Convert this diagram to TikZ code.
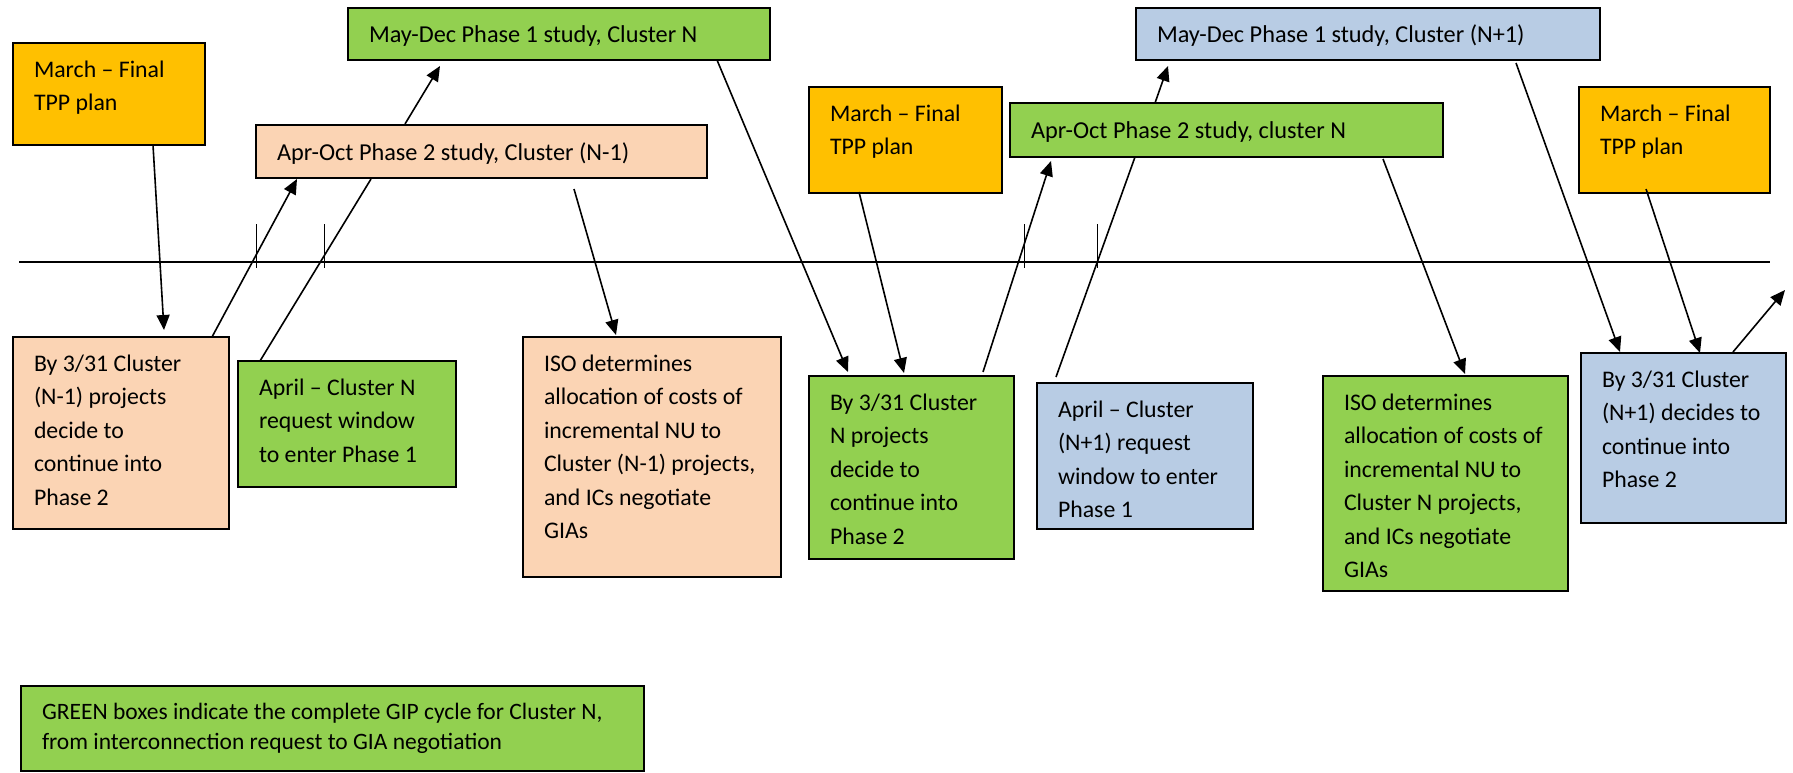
\documentclass[tikz,border=0pt]{standalone}
\usepackage{fontspec}
\setmainfont{Carlito}
\usetikzlibrary{arrows.meta,calc}
\definecolor{cOrange}{HTML}{FFC000}
\definecolor{cPeach}{HTML}{FBD4B4}
\definecolor{cGreen}{HTML}{92D050}
\definecolor{cBlue}{HTML}{B8CCE4}
\newcommand\fsz{\fontsize{23.8}{33.5}\selectfont}
\newcommand\fszh{\fontsize{24.3}{33.5}\selectfont}
\newcommand\fszl{\fontsize{23.5}{30}\selectfont}
\tikzset{
  box/.style={draw=black, line width=1.8pt, anchor=north west, inner sep=0pt, outer sep=0pt},
  txt/.style={anchor=north west, align=left, inner sep=0pt, outer sep=0pt, font=\fsz},
  conn/.style={line width=1.6pt, draw=black},
  arr/.style={conn, -{Triangle[length=15pt,width=13pt]}},
  tick/.style={line width=1pt, draw=black},
  tline/.style={line width=1.6pt, draw=black}
}
\newcommand\mkbox[8]{%
  \node[box, fill=#6, minimum width={(#4-#2)*1pt}, minimum height={(#5-#3)*1pt}] (#1) at (#2,#3) {};
  \node[txt, #8] (#1t) at ($(#1.north west)+(21,11)$) {\strut #7};
}
\begin{document}
\begin{tikzpicture}[x=1pt,y=-1pt]
\useasboundingbox (0,0) rectangle (1793,773);
% timeline
\coordinate (tlA) at (19,262);
\coordinate (tlB) at (1770,262);
\draw[tline] (tlA) -- (tlB);
\foreach \tx [count=\i] in {256,324,1024,1097} {
  \coordinate (tkA\i) at (\tx,224);
  \coordinate (tkB\i) at (\tx,268);
  \draw[tick] (tkA\i) -- (tkB\i);
}
% boxes
\mkbox{march1}{13}{43}{205}{145}{cOrange}{March -- Final\\TPP plan}{}
\mkbox{maydecN}{348}{8}{770}{60}{cGreen}{May-Dec Phase 1 study, Cluster N}{font=\fszh}
\mkbox{aproct1}{256}{125}{707}{178}{cPeach}{Apr-Oct Phase 2 study, Cluster (N-1)}{font=\fszh, yshift=-1pt}
\mkbox{by1}{13}{337}{229}{529}{cPeach}{By 3/31 Cluster\\(N-1) projects\\decide to\\continue into\\Phase 2}{}
\mkbox{aprilN}{238}{361}{456}{487}{cGreen}{April -- Cluster N\\request window\\to enter Phase 1}{}
\mkbox{iso1}{523}{337}{781}{577}{cPeach}{ISO determines\\allocation of costs of\\incremental NU to\\Cluster (N-1) projects,\\and ICs negotiate\\GIAs}{}
\mkbox{maydecN1}{1136}{8}{1600}{60}{cBlue}{May-Dec Phase 1 study, Cluster (N+1)}{font=\fszh}
\mkbox{march2}{809}{87}{1002}{193}{cOrange}{March -- Final\\TPP plan}{}
\mkbox{aproctN}{1010}{103}{1443}{157}{cGreen}{Apr-Oct Phase 2 study, cluster N}{font=\fszh, yshift=-1pt}
\mkbox{byN}{809}{376}{1014}{559}{cGreen}{By 3/31 Cluster\\N projects\\decide to\\continue into\\Phase 2}{}
\mkbox{aprilN1}{1037}{383}{1253}{529}{cBlue}{April -- Cluster\\(N+1) request\\window to enter\\Phase 1}{}
\mkbox{isoN}{1323}{376}{1568}{591}{cGreen}{ISO determines\\allocation of costs of\\incremental NU to\\Cluster N projects,\\and ICs negotiate\\GIAs}{}
\mkbox{march3}{1579}{87}{1770}{193}{cOrange}{March -- Final\\TPP plan}{}
\mkbox{byN1}{1581}{353}{1786}{523}{cBlue}{By 3/31 Cluster\\(N+1) decides to\\continue into\\Phase 2}{}
% legend
\node[box, fill=cGreen, minimum width=623pt, minimum height=85pt] (legend) at (21,686) {};
\node[txt, font=\fszl] (legendt) at ($(legend.north west)+(21,12)$) {\strut GREEN boxes indicate the complete GIP cycle for Cluster N,\\from interconnection request to GIA negotiation};
% connectors
\draw[arr] ($(march1.south west)+(140,0)$) -- ($(by1.north west)+(151,-7)$);
\draw[arr] ($(by1.north west)+(199,0)$) -- ($(aproct1.south west)+(41,1)$);
\draw[conn] ($(aprilN.north west)+(22,0)$) -- ($(aproct1.south west)+(115,1)$);
\draw[arr] ($(aproct1.north west)+(149,-1)$) -- ($(maydecN.south west)+(92,6)$);
\draw[arr] ($(aproct1.south west)+(318,11)$) -- ($(iso1.north west)+(93,-2)$);
\draw[arr] ($(maydecN.south west)+(369,0)$) -- ($(byN.north west)+(39,-4)$);
\draw[arr] ($(march2.south west)+(50,-1)$) -- ($(byN.north west)+(95,-3)$);
\draw[arr] ($(byN.north west)+(174,-4)$) -- ($(aproctN.south west)+(41,4)$);
\draw[conn] ($(aprilN1.north west)+(19,-6)$) -- ($(aproctN.south west)+(125,0)$);
\draw[arr] ($(aproctN.north west)+(145,0)$) -- ($(maydecN1.south west)+(32,6)$);
\draw[arr] ($(aproctN.south west)+(373,2)$) -- ($(isoN.north west)+(142,-2)$);
\draw[arr] ($(maydecN1.south west)+(380,3)$) -- ($(byN1.north west)+(39,-1)$);
\draw[arr] ($(march3.south west)+(67,-4)$) -- ($(byN1.north west)+(119,0)$);
\coordinate (endtip) at (1785,290);
\draw[arr] ($(byN1.north west)+(152,-1)$) -- (endtip);
\end{tikzpicture}
\end{document}
